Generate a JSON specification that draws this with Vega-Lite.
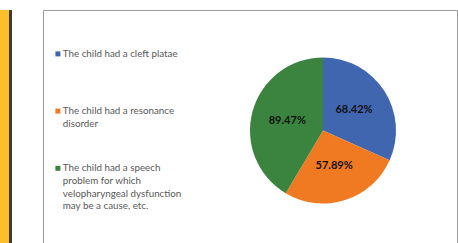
{
  "$schema": "https://vega.github.io/schema/vega-lite/v6.json",
  "padding": 0,
  "background": "white",
  "spacing": 30,
  "config": {
    "view": {"stroke": null},
    "style": {"guide-label": {"lineHeight": 12.7}}
  },
  "data": {
    "values": [
      {"cat": "The child had a cleft platae", "value": 0.6842},
      {"cat": "The child had a resonance disorder", "value": 0.5789},
      {"cat": "The child had a speech problem for which velopharyngeal dysfunction may be a cause, etc.", "value": 0.8947}
    ]
  },
  "hconcat": [
    {
      "spacing": 0,
      "hconcat": [
        {
          "width": 9,
          "height": 243,
          "view": {"fill": "#FBBF2B", "stroke": null},
          "mark": {"type": "rect", "opacity": 0},
          "encoding": {}
        },
        {
          "width": 3,
          "height": 243,
          "view": {"fill": "#3B3B3B", "stroke": null},
          "mark": {"type": "rect", "opacity": 0},
          "encoding": {}
        }
      ]
    },
    {
      "title": {"text": " ", "fontSize": 9, "offset": 0},
      "width": 414,
      "height": 233,
      "view": {"stroke": "#9a9a9a", "strokeWidth": 1, "fill": "white"},
      "encoding": {
        "theta": {"field": "value", "type": "quantitative", "stack": true},
        "order": {"field": "cat", "type": "nominal", "sort": "ascending"}
      },
      "layer": [
        {
          "mark": {"type": "arc", "outerRadius": 73, "x": 280, "y": 120.5},
          "encoding": {
            "color": {
              "field": "cat",
              "type": "nominal",
              "scale": {
                "domain": [
                  "The child had a cleft platae",
                  "The child had a resonance disorder",
                  "The child had a speech problem for which velopharyngeal dysfunction may be a cause, etc."
                ],
                "range": ["#4066B0", "#F07A21", "#3A843F"]
              },
              "legend": {
                "orient": "none",
                "legendX": 53,
                "legendY": 39,
                "title": null,
                "padding": 0,
                "symbolType": "square",
                "symbolSize": 25,
                "symbolStrokeWidth": 0,
                "labelFont": "Lato",
                "labelFontSize": 9.8,
                "labelColor": "#595959",
                "labelLimit": 300,
                "labelOffset": 0,
                "rowPadding": 8.2,
                "labelExpr": "indexof(datum.label, 'cleft') >= 0 ? ['The child had a cleft platae', '', '', ''] : indexof(datum.label, 'resonance') >= 0 ? ['The child had a resonance', 'disorder', '', ''] : ['The child had a speech', 'problem for which', 'velopharyngeal dysfunction', 'may be a cause, etc.']"
              }
            }
          }
        },
        {
          "mark": {"type": "text", "radius": 37, "x": 280, "y": 120.5, "font": "Lato", "fontSize": 11, "fontWeight": "bold", "color": "#111111"},
          "encoding": {
            "detail": {"field": "cat", "type": "nominal"},
            "text": {"field": "value", "type": "quantitative", "format": ".2%"}
          }
        }
      ]
    }
  ]
}
